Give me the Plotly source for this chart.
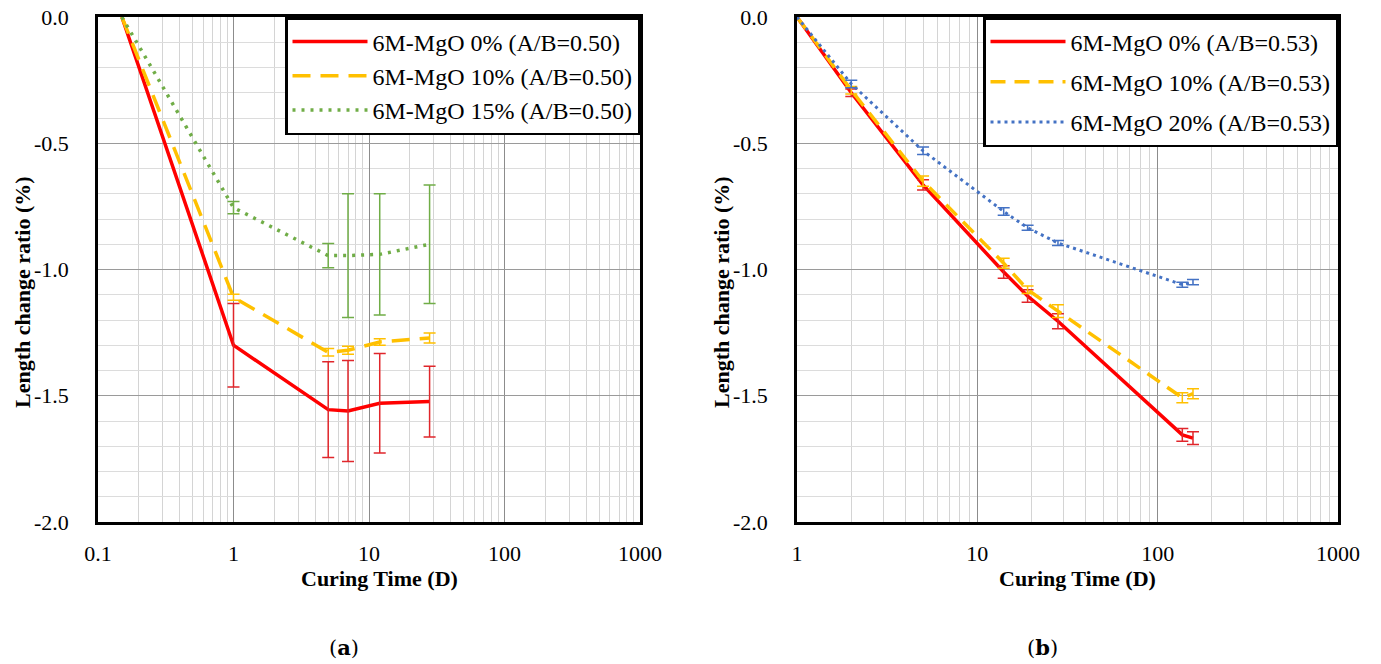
import plotly.graph_objects as go

# ---------------- data ----------------
days_a = [0.15, 1, 5, 7, 12, 28]
a_mgo0 = [0, -1.30, -1.555, -1.56, -1.53, -1.523]
a_mgo0_err = [None, 0.165, 0.19, 0.20, 0.197, 0.14]
a_mgo10 = [0, -1.11, -1.328, -1.32, -1.287, -1.271]
a_mgo10_err = [None, 0.012, 0.015, 0.016, 0.013, 0.02]
a_mgo15 = [0, -0.755, -0.945, -0.945, -0.94, -0.90]
a_mgo15_err = [None, 0.024, 0.048, 0.245, 0.24, 0.235]

days_b = [1, 2, 5, 14, 19, 28, 137, 157]
b_mgo0 = [0, -0.30, -0.665, -1.01, -1.105, -1.205, -1.655, -1.668]
b_mgo0_err = [None, 0.015, 0.02, 0.025, 0.025, 0.03, 0.025, 0.025]
b_mgo10 = [0, -0.29, -0.65, -0.975, -1.08, -1.165, -1.508, -1.492]
b_mgo10_err = [None, 0.015, 0.02, 0.02, 0.015, 0.025, 0.02, 0.02]
b_mgo20 = [0, -0.265, -0.53, -0.77, -0.835, -0.895, -1.06, -1.05]
b_mgo20_err = [None, 0.015, 0.015, 0.015, 0.01, 0.01, 0.01, 0.01]

names_a = ["6M-MgO 0% (A/B=0.50)", "6M-MgO 10% (A/B=0.50)", "6M-MgO 15% (A/B=0.50)"]
names_b = ["6M-MgO 0% (A/B=0.53)", "6M-MgO 10% (A/B=0.53)", "6M-MgO 20% (A/B=0.53)"]

xticks_a = [0.1, 1, 10, 100, 1000]
xticktext_a = ["0.1", "1", "10", "100", "1000"]
xticks_b = [1, 10, 100, 1000]
xticktext_b = ["1", "10", "100", "1000"]
yticks = [-2.0, -1.5, -1.0, -0.5, 0.0]
yticktext = ["-2.0", "-1.5", "-1.0", "-0.5", "0.0"]

# ---------------- style ----------------
W, H = 1381, 664
RED, YEL, GRN, BLU = "#ff0000", "#ffc000", "#70ad47", "#4472c4"
RED_ERR = "#e0262b"
FONT = "Liberation Serif, Times New Roman, serif"

fig = go.Figure()


def add_series(x, y, err, name, color, errcolor, dash, width, xa, ya, legend, grp):
    fig.add_trace(go.Scatter(
        x=x, y=y, mode="lines", name=name, legend=legend, legendgroup=grp,
        line=dict(color=color, width=width, dash=dash),
        xaxis=xa, yaxis=ya))
    ex = [xi for xi, e in zip(x, err) if e is not None]
    ey = [yi for yi, e in zip(y, err) if e is not None]
    ee = [e for e in err if e is not None]
    fig.add_trace(go.Scatter(
        x=ex, y=ey, mode="markers", showlegend=False, hoverinfo="skip",
        marker=dict(size=1, color="rgba(0,0,0,0)"),
        error_y=dict(type="data", array=ee, color=errcolor, thickness=1.5, width=6),
        xaxis=xa, yaxis=ya))


add_series(days_a, a_mgo0, a_mgo0_err, names_a[0], RED, RED_ERR, "solid", 3.5, "x", "y", "legend", None)
add_series(days_a, a_mgo10, a_mgo10_err, names_a[1], YEL, YEL, "18px,10px", 3.5, "x", "y", "legend", None)
add_series(days_a, a_mgo15, a_mgo15_err, names_a[2], GRN, GRN, "3px,6px", 3.5, "x", "y", "legend", None)

add_series(days_b, b_mgo0, b_mgo0_err, names_b[0], RED, RED_ERR, "solid", 3.5, "x2", "y2", "legend2", "b1")
add_series(days_b, b_mgo10, b_mgo10_err, names_b[1], YEL, YEL, "15px,9px", 3.5, "x2", "y2", "legend2", "b2")
add_series(days_b, b_mgo20, b_mgo20_err, names_b[2], BLU, BLU, "3px,4px", 3, "x2", "y2", "legend2", "b3")

ydom = [1 - 522 / H, 1 - 17 / H]
xdom_a = [98 / W, 640 / W]
xdom_b = [797 / W, 1338 / W]

common_x = dict(
    type="log", showline=True, mirror=True, linecolor="black", linewidth=2.5,
    showgrid=True, gridcolor="#8c8c8c", gridwidth=1, zeroline=False,
    ticks="", ticklabelstandoff=10,
    tickfont=dict(family=FONT, size=22, color="black"),
    minor=dict(dtick="D1", showgrid=True, gridcolor="#d4d4d4", gridwidth=1, ticks=""),
)
common_y = dict(
    range=[-2, 0], showline=True, mirror=True, linecolor="black", linewidth=2.5,
    showgrid=True, gridcolor="#9a9a9a", gridwidth=1, zeroline=False,
    tickvals=yticks, ticktext=yticktext, ticks="", ticklabelstandoff=22,
    tickfont=dict(family=FONT, size=22, color="black"),
    minor=dict(dtick=0.1, showgrid=True, gridcolor="#dcdcdc", gridwidth=1, ticks=""),
)

fig.update_layout(
    width=W, height=H, margin=dict(l=0, r=0, t=0, b=0, autoexpand=False),
    paper_bgcolor="white", plot_bgcolor="white",
    font=dict(family=FONT, color="black"),
    xaxis=dict(domain=xdom_a, range=[-1, 3], tickvals=xticks_a, ticktext=xticktext_a, anchor="y", **common_x),
    yaxis=dict(domain=ydom, anchor="x", **common_y),
    xaxis2=dict(domain=xdom_b, range=[0, 3], tickvals=xticks_b, ticktext=xticktext_b, anchor="y2", **common_x),
    yaxis2=dict(domain=ydom, anchor="x2", **common_y),
    legend=dict(
        x=640 / W, y=1 - 17 / H, xanchor="right", yanchor="top",
        bgcolor="white", bordercolor="black", borderwidth=2.5,
        font=dict(family=FONT, size=24, color="black"),
        traceorder="normal", itemwidth=75,
    ),
    legend2=dict(
        x=1338 / W, y=1 - 17 / H, xanchor="right", yanchor="top",
        bgcolor="white", bordercolor="black", borderwidth=2.5,
        font=dict(family=FONT, size=24, color="black"),
        traceorder="grouped", tracegroupgap=6, itemwidth=75,
    ),
    showlegend=True,
)

ann = []
ann.append(dict(text="<b>Curing Time (D)</b>", x=379 / W, y=1 - 578 / H, xref="paper", yref="paper",
                showarrow=False, xanchor="center", yanchor="middle", font=dict(family=FONT, size=22)))
ann.append(dict(text="<b>Curing Time (D)</b>", x=1077 / W, y=1 - 578 / H, xref="paper", yref="paper",
                showarrow=False, xanchor="center", yanchor="middle", font=dict(family=FONT, size=22)))
ann.append(dict(text="<b>Length change ratio (%)</b>", x=23 / W, y=1 - 292 / H, xref="paper", yref="paper",
                showarrow=False, textangle=-90, xanchor="center", yanchor="middle", font=dict(family=FONT, size=22)))
ann.append(dict(text="<b>Length change ratio (%)</b>", x=722 / W, y=1 - 292 / H, xref="paper", yref="paper",
                showarrow=False, textangle=-90, xanchor="center", yanchor="middle", font=dict(family=FONT, size=22)))
ann.append(dict(text="(<b>a</b>)", x=344 / W, y=1 - 647 / H, xref="paper", yref="paper",
                showarrow=False, xanchor="center", yanchor="middle", font=dict(family="DejaVu Serif", size=21)))
ann.append(dict(text="(<b>b</b>)", x=1042 / W, y=1 - 647 / H, xref="paper", yref="paper",
                showarrow=False, xanchor="center", yanchor="middle", font=dict(family="DejaVu Serif", size=21)))
fig.update_layout(annotations=ann)

fig.write_html(
    "out.html",
    post_script="document.body.style.margin='0px';document.documentElement.style.margin='0px';",
)
